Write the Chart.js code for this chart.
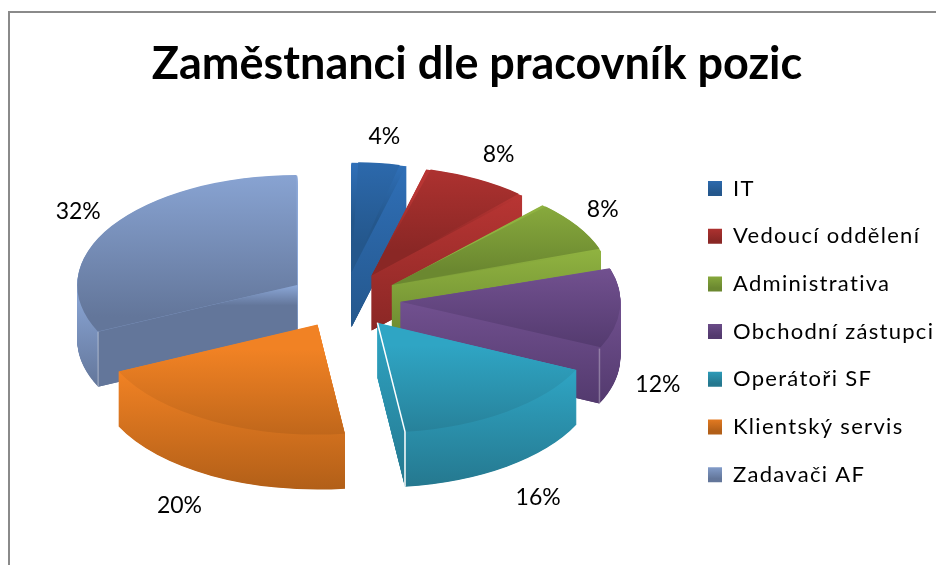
<!DOCTYPE html>
<html lang="cs">
<head>
<meta charset="utf-8">
<title>Zaměstnanci dle pracovník pozic</title>
<script src="https://cdn.jsdelivr.net/npm/chart.js@4"></script>
<style>
  html, body { margin: 0; padding: 0; background: #fff; overflow: hidden; }
  #frame { position: absolute; left: 8px; top: 11px; width: 1000px; height: 700px; border: 2px solid #8a8a8a; }
  #chart { position: absolute; left: 0; top: 0; }
</style>
</head>
<body>
<div id="frame"></div>
<canvas id="chart" width="936" height="565"></canvas>
<script>
const positions = ['IT', 'Vedoucí oddělení', 'Administrativa', 'Obchodní zástupci', 'Operátoři SF', 'Klientský servis', 'Zadavači AF'];
const shares = [4, 8, 8, 12, 16, 20, 32];
const lightColors = ['#2f6fb7', '#b83533', '#8fb240', '#71508f', '#2fa5c4', '#f18224', '#8ca8d8'];
const darkColors = ['#24578c', '#8a2725', '#6b8830', '#533a6e', '#25788f', '#b25f18', '#63769a'];
// how far down a cut face its colour reaches the dark end
const faceFade = [1, 1, 1, 1, 1, 1, 0.2];

// tilt of the pie: where it sits on the page and how it is squashed
const pie = { x: 344.5, y: 300, radius: 220, explode: 56, squash: 0.5, depth: 55 };
const TAU = Math.PI * 2;
const total = shares.reduce((a, b) => a + b, 0);

function wedgeAngles(i) {
  const before = shares.slice(0, i).reduce((a, b) => a + b, 0);
  const start = before / total * TAU - Math.PI / 2;
  return { start, end: start + shares[i] / total * TAU };
}

// y range of an arc piece relative to the wedge tip, in unsquashed pixels
function arcRange(a, b, r) {
  const ys = [Math.sin(a) * r, Math.sin(b) * r];
  for (let t = -Math.PI / 2; t < TAU; t += Math.PI) {
    if (t > a && t < b) ys.push(Math.sin(t) * r);
  }
  return [Math.min(...ys), Math.max(...ys)];
}

function fade(ctx, y0, y1, i, stop = 1) {
  const g = ctx.createLinearGradient(0, y0, 0, y1);
  g.addColorStop(0, lightColors[i]);
  g.addColorStop(stop, darkColors[i]);
  return g;
}

function topFill(c) {
  const area = c.chart.chartArea;
  const i = c.dataIndex;
  if (!area || i === undefined) return lightColors[i || 0];
  const { start, end } = wedgeAngles(i);
  const mid = (start + end) / 2;
  const tipY = (area.top + area.bottom) / 2 + Math.sin(mid) * pie.explode;
  const [lo, hi] = arcRange(start, end, pie.radius);
  return fade(c.chart.ctx, tipY + Math.min(lo, 0), tipY + Math.max(hi, 0), i);
}

function wedgeTip(el) {
  const p = el.getProps(['x', 'y', 'startAngle', 'endAngle']);
  const mid = (p.startAngle + p.endAngle) / 2;
  return { ...p, mid, tipX: p.x + Math.cos(mid) * pie.explode, tipY: p.y + Math.sin(mid) * pie.explode };
}

function wallRange(w) {
  // the part of the rim that faces the viewer
  const from = Math.max(w.startAngle, 0);
  const to = Math.min(w.endAngle, Math.PI);
  return arcRange(Math.min(from, to), to, pie.radius);
}

function visibleFaces(w) {
  return [[w.startAngle, -1], [w.endAngle, 1]]
    .filter(([ang, side]) => Math.sin(ang + side * Math.PI / 2) > 0.001)
    .map(([ang]) => ({ ex: w.tipX + Math.cos(ang) * pie.radius, ey: w.tipY + Math.sin(ang) * pie.radius }));
}

const tiltPlugin = {
  id: 'tilt',
  beforeDatasetsDraw(chart) {
    const ctx = chart.ctx;
    const arcs = chart.getDatasetMeta(0).data;
    const a = arcs[0];
    const drop = pie.depth / pie.squash;

    // an offset arc grows by a share of its offset that depends on its angle; undo that
    arcs.forEach(el => {
      el.outerRadius = pie.radius - pie.explode * (1 - Math.sin(Math.min(Math.PI, el.circumference)));
    });

    ctx.save();
    ctx.translate(pie.x, pie.y);
    ctx.scale(1, pie.squash);
    ctx.translate(-a.x, -a.y);

    const order = arcs.map((el, i) => i).sort((m, n) => {
      const wm = wedgeAngles(m), wn = wedgeAngles(n);
      return Math.sin((wm.start + wm.end) / 2) - Math.sin((wn.start + wn.end) / 2);
    });

    order.forEach(i => {
      const w = wedgeTip(arcs[i]);
      // outer wall: the wedge shape stacked downwards
      const [lo, hi] = wallRange(w);
      ctx.fillStyle = fade(ctx, w.tipY + lo, w.tipY + hi + drop, i);
      for (let d = drop; d > 0; d -= 1) {
        ctx.beginPath();
        ctx.moveTo(w.tipX, w.tipY + d);
        ctx.arc(w.tipX, w.tipY + d, pie.radius, w.startAngle, w.endAngle);
        ctx.closePath();
        ctx.fill();
      }
      // cut faces that look towards the viewer
      visibleFaces(w).forEach(({ ex, ey }) => {
        ctx.fillStyle = fade(ctx, Math.min(w.tipY, ey), Math.max(w.tipY, ey) + drop, i, faceFade[i]);
        ctx.beginPath();
        ctx.moveTo(w.tipX, w.tipY);
        ctx.lineTo(ex, ey);
        ctx.lineTo(ex, ey + drop);
        ctx.lineTo(w.tipX, w.tipY + drop);
        ctx.closePath();
        ctx.fill();
      });
    });
  },
  afterDatasetsDraw(chart, args, opts) {
    const ctx = chart.ctx;
    const drop = pie.depth / pie.squash;
    // thin light seams on the front corners
    chart.getDatasetMeta(0).data.forEach((el, i) => {
      const w = wedgeTip(el);
      visibleFaces(w).forEach(({ ex, ey }) => {
        if (ey <= w.tipY) return;
        ctx.strokeStyle = i === opts.whiteSeam ? '#fff' : 'rgba(255,255,255,0.3)';
        ctx.lineWidth = 1.5;
        ctx.beginPath();
        if (i === opts.whiteSeam) ctx.moveTo(w.tipX, w.tipY);
        else ctx.moveTo(ex, ey);
        ctx.lineTo(ex, ey);
        ctx.lineTo(ex, ey + drop);
        ctx.stroke();
      });
    });
    ctx.restore();
  }
};

const percentPlugin = {
  id: 'percentLabels',
  afterDraw(chart, args, opts) {
    const ctx = chart.ctx;
    const arcs = chart.getDatasetMeta(0).data;
    ctx.save();
    ctx.font = opts.font;
    ctx.fillStyle = opts.color;
    ctx.textAlign = 'center';
    ctx.textBaseline = 'middle';
    arcs.forEach((el, i) => {
      const w = wedgeTip(el);
      const dirX = Math.cos(w.mid), dirY = Math.sin(w.mid);
      const reach = pie.radius + opts.gap;
      const x = pie.x + (w.tipX - w.x) + dirX * reach + opts.nudge[i][0];
      const y = pie.y + (w.tipY - w.y + dirY * reach) * pie.squash + (dirY > -0.1 ? pie.depth : 0) + opts.nudge[i][1];
      ctx.fillText(shares[i] + '%', x, y);
    });
    ctx.restore();
  }
};

const legendPlugin = {
  id: 'legendPlace',
  beforeDraw(chart, args, opts) {
    const lg = chart.legend;
    const pad = lg.options.labels.padding;
    lg.left = opts.left - pad;
    lg.right = chart.width;
    lg.top = opts.top - pad;
    lg.bottom = lg.top + lg.height;
    lg.legendItems.forEach((item, i) => {
      const y = opts.top + i * (pad + lg.options.labels.font.size);
      item.fillStyle = fade(chart.ctx, y, y + lg.options.labels.boxHeight, i);
    });
    // the legend text runs wider than the font does by itself
    if (!lg.spaced) {
      const draw = lg.draw;
      lg.draw = function () {
        chart.ctx.letterSpacing = opts.letterSpacing;
        draw.call(lg);
        chart.ctx.letterSpacing = '0px';
      };
      lg.spaced = true;
    }
  }
};

new Chart(document.getElementById('chart'), {
  type: 'pie',
  data: {
    labels: positions,
    datasets: [{
      data: shares,
      backgroundColor: topFill,
      borderWidth: 0,
      offset: pie.explode * 4, // the arc element only moves by a quarter of this
      radius: pie.radius,
      clip: false
    }]
  },
  options: {
    responsive: false,
    animation: false,
    layout: { padding: { left: 18, bottom: 40 } },
    plugins: {
      title: {
        display: true,
        text: 'Zaměstnanci dle pracovník pozic',
        color: '#000',
        font: { family: 'Lato', size: 45, weight: 'bold' },
        padding: { top: 37, bottom: 20 }
      },
      legend: {
        position: 'right',
        align: 'start',
        labels: {
          font: { family: 'Lato', size: 22 },
          color: '#000',
          boxWidth: 14,
          boxHeight: 15,
          padding: 25.7,
          generateLabels: chart => positions.map((text, i) => ({
            text, fillStyle: lightColors[i], strokeStyle: 'transparent', lineWidth: 0, index: i
          }))
        }
      },
      tooltip: { enabled: false },
      tilt: { whiteSeam: 4 },
      legendPlace: { left: 708, top: 177.5, letterSpacing: '1.3px' },
      percentLabels: {
        font: '23px Lato',
        color: '#000',
        gap: 50,
        nudge: [[-1, -2], [-3, -3], [-17, -3], [-12, 19], [2, 11], [-8, 8], [9, -1]]
      }
    }
  },
  plugins: [tiltPlugin, percentPlugin, legendPlugin]
});
</script>
</body>
</html>
